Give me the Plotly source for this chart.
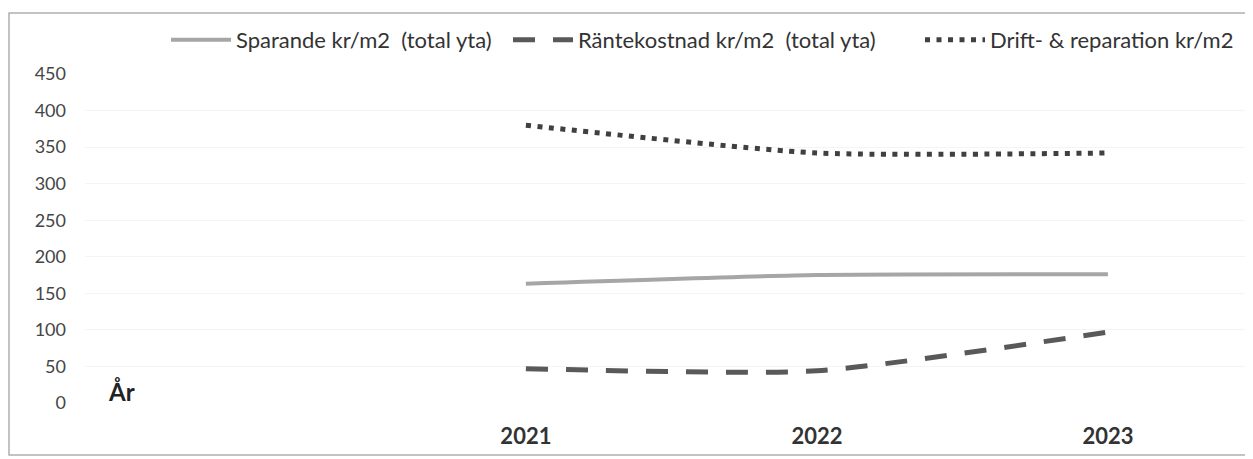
import plotly.graph_objects as go

years = [2021, 2022, 2023]
year_labels = ["<b>2021</b>", "<b>2022</b>", "<b>2023</b>"]
sparande = [163, 175, 176]
rantekostnad = [47, 44, 97]
drift = [380, 342, 342]
y_ticks = [0, 50, 100, 150, 200, 250, 300, 350, 400, 450]

names = ["Sparande kr/m2\u00a0\u00a0(total yta)",
         "Räntekostnad kr/m2\u00a0\u00a0(total yta)",
         "Drift- & reparation kr/m2"]

OFF = 8  # page body margin
W, H = 1253 - OFF, 459 - OFF
# plot area in reference pixel coords
PL, PR, PT, PB = 85, 1245, 74, 403
ml, mr, mt, mb = PL - OFF, W - (PR - OFF), PT - OFF, H - (PB - OFF)

fig = go.Figure()
fig.add_trace(go.Scatter(x=years, y=sparande, name=names[0], mode="lines", legendwidth=267,
                         line=dict(color="#a6a6a6", width=4, shape="spline", smoothing=0.6)))
fig.add_trace(go.Scatter(x=years, y=rantekostnad, name=names[1], mode="lines", legendwidth=337,
                         line=dict(color="#595959", width=5, dash="22px,18px",
                                   shape="spline", smoothing=0.6)))
fig.add_trace(go.Scatter(x=years, y=drift, name=names[2], mode="lines",
                         line=dict(color="#404040", width=5, dash="5px,6.5px",
                                   shape="spline", smoothing=0.6)))

def px_x(p):
    return (p - PL) / (PR - PL)

def px_y(p):
    return (PB - p) / (PB - PT)

fig.update_layout(
    width=W, height=H,
    margin=dict(l=ml, r=mr, t=mt, b=mb, autoexpand=False),
    paper_bgcolor="white", plot_bgcolor="white",
    font=dict(family="Lato", color="#404040"),
    showlegend=True,
    legend=dict(orientation="h", x=px_x(166), y=px_y(40), xanchor="left", yanchor="middle",
                font=dict(size=22, color="#333333"), itemwidth=60,
                bgcolor="rgba(0,0,0,0)", traceorder="normal"),
    xaxis=dict(range=[2019.485, 2023.471], tickmode="array", tickvals=years,
               ticktext=year_labels, showgrid=False, zeroline=False, showline=False,
               ticks="", tickfont=dict(size=22, color="#333333", family="Lato"),
               ticklabelstandoff=18),
    yaxis=dict(range=[0, 450], tickmode="array", tickvals=y_ticks,
               showgrid=True, gridcolor="#f4f4f4", gridwidth=1, zeroline=False,
               showline=False, ticks="", tickfont=dict(size=18, color="#454545"),
               ticklabelstandoff=18),
)

fig.add_annotation(text="<b>År</b>", xref="paper", yref="paper",
                   x=px_x(121), y=px_y(391), showarrow=False,
                   font=dict(size=24, color="#222222"), xanchor="center", yanchor="middle")

fig.add_shape(type="rect", xref="paper", yref="paper",
              x0=px_x(9), x1=px_x(1262), y0=px_y(455), y1=px_y(13),
              line=dict(color="#b0b0b0", width=1.5), fillcolor="rgba(0,0,0,0)", layer="below")

fig.write_html("out.html")
